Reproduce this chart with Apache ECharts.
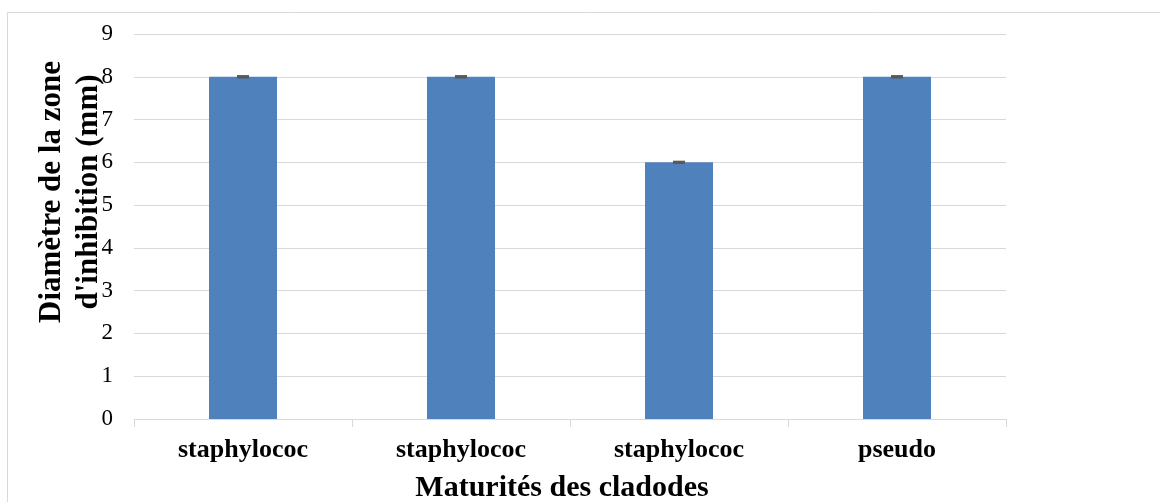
<!DOCTYPE html>
<html>
<head>
<meta charset="utf-8">
<script src="https://cdn.jsdelivr.net/npm/echarts@6/dist/echarts.min.js"></script>
<style>
  html, body { margin: 0; padding: 0; background: #ffffff; }
  #chart { width: 1160px; height: 502px; }
</style>
</head>
<body>
<div id="chart"></div>
<script>
// Inhibition zone diameters per strain
const categories = ['staphylococ', 'staphylococ', 'staphylococ', 'pseudo'];
const diameters = [8, 8, 6, 8];
const errors = [0, 0, 0, 0];
const yTicks = [0, 1, 2, 3, 4, 5, 6, 7, 8, 9];
const xTitle = 'Maturités des cladodes';
const yTitle = 'Diamètre de la zone\nd\'inhibition (mm)';

const serif = '"Liberation Serif", "Times New Roman", serif';
const chart = echarts.init(document.getElementById('chart'));

const errorData = diameters.map((v, i) => [i, v, errors[i]]);

chart.setOption({
  animation: false,
  backgroundColor: '#ffffff',
  graphic: [
    {
      type: 'rect',
      shape: { x: 7.5, y: 12.5, width: 1300, height: 700 },
      style: { fill: 'none', stroke: '#d9d9d9', lineWidth: 1 },
      silent: true
    },
    {
      type: 'text',
      x: 70, y: 192,
      rotation: Math.PI / 2,
      z: 10,
      style: {
        text: yTitle, fill: '#000', font: 'bold 31px ' + serif,
        lineHeight: 37, align: 'center', verticalAlign: 'middle'
      }
    },
    {
      type: 'text',
      x: 562, y: 488,
      z: 10,
      style: {
        text: xTitle, fill: '#000', font: 'bold 30px ' + serif,
        align: 'center', verticalAlign: 'middle'
      }
    }
  ],
  grid: { left: 134, right: 154, top: 34, bottom: 83, containLabel: false, outerBoundsMode: 'none' },
  xAxis: {
    type: 'category',
    data: categories,
    axisLine: { show: true, lineStyle: { color: '#d9d9d9', width: 1 } },
    axisTick: { show: true, length: 8, alignWithLabel: false, lineStyle: { color: '#d9d9d9' } },
    axisLabel: { color: '#000', fontFamily: serif, fontWeight: 'bold', fontSize: 26, margin: 18 }
  },
  yAxis: {
    type: 'value',
    min: yTicks[0],
    max: yTicks[yTicks.length - 1],
    interval: 1,
    axisLine: { show: false },
    axisTick: { show: false },
    splitLine: { lineStyle: { color: '#d9d9d9', width: 1 } },
    axisLabel: { color: '#000', fontFamily: serif, fontSize: 23, margin: 21 }
  },
  series: [
    {
      type: 'bar',
      data: diameters,
      barWidth: 68,
      itemStyle: { color: '#4f81bd' },
      z: 2
    },
    {
      type: 'custom',
      data: errorData,
      z: 5,
      renderItem: function (params, api) {
        const i = api.value(0);
        const v = api.value(1);
        const e = api.value(2);
        const top = api.coord([i, v + e]);
        const bot = api.coord([i, v - e]);
        const half = 6;
        const style = { stroke: '#595959', lineWidth: 3 };
        return {
          type: 'group',
          children: [
            { type: 'line', shape: { x1: top[0], y1: top[1], x2: bot[0], y2: bot[1] }, style: { stroke: '#595959', lineWidth: 1 } },
            { type: 'line', shape: { x1: top[0] - half, y1: top[1], x2: top[0] + half, y2: top[1] }, style: style },
            { type: 'line', shape: { x1: bot[0] - half, y1: bot[1], x2: bot[0] + half, y2: bot[1] }, style: style }
          ]
        };
      }
    }
  ]
});
</script>
</body>
</html>
